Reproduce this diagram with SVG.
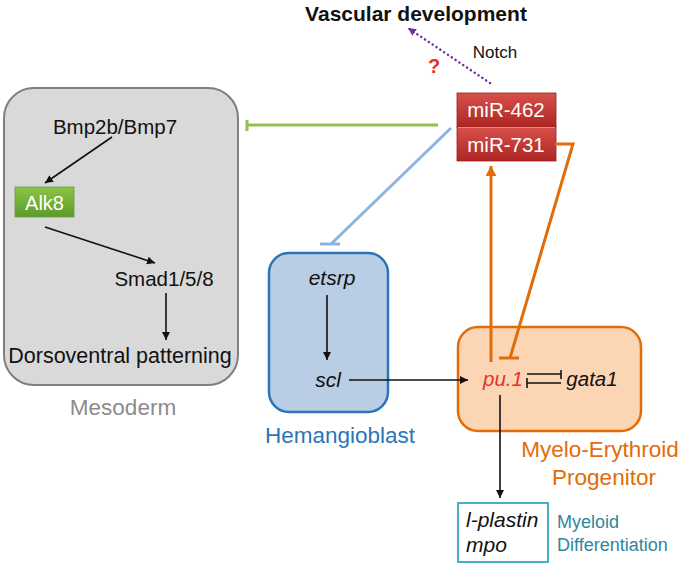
<svg xmlns="http://www.w3.org/2000/svg" width="685" height="569" viewBox="0 0 685 569">
<style>
  text { font-family: "Liberation Sans", Arial, sans-serif; }
  .blk { fill: #111; }
  .it { font-style: italic; }
  .ln { fill: none; stroke: #111; stroke-width: 1.6; }
  .wt { fill: #ffffff; }
</style>
<defs>
  <linearGradient id="gRed" x1="0" y1="0" x2="0" y2="1">
    <stop offset="0" stop-color="#d8504a"/>
    <stop offset="1" stop-color="#ae2622"/>
  </linearGradient>
  <linearGradient id="gGreen" x1="0" y1="0" x2="0" y2="1">
    <stop offset="0" stop-color="#8cc544"/>
    <stop offset="1" stop-color="#5c9a2c"/>
  </linearGradient>
  <marker id="arr" markerUnits="userSpaceOnUse" markerWidth="9" markerHeight="9" refX="8" refY="4" orient="auto">
    <path d="M0,0 L8,4 L0,8 z" fill="#111"/>
  </marker>
  <marker id="arrO" markerUnits="userSpaceOnUse" markerWidth="12" markerHeight="12" refX="10" refY="5.5" orient="auto">
    <path d="M0,0 L10,5.5 L0,11 z" fill="#e36c09"/>
  </marker>
  <marker id="arrP" markerUnits="userSpaceOnUse" markerWidth="9" markerHeight="9" refX="8" refY="4" orient="auto">
    <path d="M0,0 L8,4 L0,8 z" fill="#7030a0"/>
  </marker>
</defs>
<rect width="685" height="569" fill="#ffffff"/>

<g id="mesoderm">
  <rect x="4" y="88" width="234" height="297" rx="30" fill="#d9d9d9" stroke="#7f7f7f" stroke-width="2"/>
  <text x="123" y="415" font-size="22.5" fill="#8c8c8c" text-anchor="middle">Mesoderm</text>
</g>
<g id="bmp">
  <text x="115" y="134" font-size="20.5" class="blk" text-anchor="middle">Bmp2b/Bmp7</text>
</g>
<g id="alk8">
  <rect x="15" y="187" width="59" height="30" fill="url(#gGreen)" stroke="#6a9f3a" stroke-width="0.8"/>
  <text x="44.5" y="210" font-size="20" class="wt" text-anchor="middle">Alk8</text>
</g>
<g id="smad">
  <text x="164" y="286" font-size="20.5" class="blk" text-anchor="middle">Smad1/5/8</text>
</g>
<g id="dv">
  <text x="120" y="363" font-size="21.5" class="blk" text-anchor="middle">Dorsoventral patterning</text>
</g>

<g id="vascular">
  <text x="416" y="21" font-size="21" font-weight="bold" class="blk" text-anchor="middle">Vascular development</text>
</g>

<g id="mir">
  <rect x="457" y="93" width="99" height="34" fill="url(#gRed)" stroke="#9a2020" stroke-width="0.8"/>
  <rect x="457" y="127" width="99" height="34" fill="url(#gRed)" stroke="#9a2020" stroke-width="0.8"/>
  <line x1="458" y1="127.5" x2="555" y2="127.5" stroke="#e88a84" stroke-width="1"/>
  <text x="506" y="117" font-size="20.5" class="wt" text-anchor="middle">miR-462</text>
  <text x="506" y="152" font-size="20.5" class="wt" text-anchor="middle">miR-731</text>
</g>

<g id="hemangioblast">
  <rect x="269" y="253" width="119" height="159" rx="20" fill="#b9cde5" stroke="#2e75b6" stroke-width="2.5"/>
  <text x="332" y="285" font-size="21" class="blk it" text-anchor="middle">etsrp</text>
  <text x="328" y="387" font-size="21" class="blk it" text-anchor="middle">scl</text>
  <text x="340" y="443" font-size="22.5" fill="#2e75b6" text-anchor="middle">Hemangioblast</text>
</g>

<g id="progenitor">
  <rect x="458" y="327" width="183" height="104" rx="20" fill="#fcd5b5" stroke="#e36c09" stroke-width="2.5"/>
  <text x="503" y="386" font-size="20.5" fill="#e8302a" class="it" text-anchor="middle">pu.1</text>
  <text x="592" y="386" font-size="20.5" class="blk it" text-anchor="middle">gata1</text>
  <text x="600" y="457" font-size="22.5" fill="#e36c09" text-anchor="middle">Myelo-Erythroid</text>
  <text x="604" y="485" font-size="22.5" fill="#e36c09" text-anchor="middle">Progenitor</text>
</g>

<g id="myeloid">
  <rect x="458" y="503" width="90" height="59" fill="#ffffff" stroke="#4bacc6" stroke-width="2"/>
  <text x="466" y="527" font-size="21" class="blk it">l-plastin</text>
  <text x="466" y="552" font-size="21" class="blk it">mpo</text>
  <text x="557" y="528" font-size="18" fill="#31859c">Myeloid</text>
  <text x="557" y="551" font-size="18" fill="#31859c">Differentiation</text>
</g>

<g id="connectors">
  <!-- black activation arrows -->
  <line class="ln" x1="112" y1="137" x2="45" y2="183" marker-end="url(#arr)"/>
  <line class="ln" x1="45" y1="227" x2="155" y2="263" marker-end="url(#arr)"/>
  <line class="ln" x1="166" y1="293" x2="166" y2="340" marker-end="url(#arr)"/>
  <line class="ln" x1="327" y1="295" x2="327" y2="360" marker-end="url(#arr)"/>
  <line class="ln" x1="349" y1="380" x2="468" y2="380" marker-end="url(#arr)"/>
  <line class="ln" x1="500" y1="395" x2="500" y2="498" marker-end="url(#arr)"/>
  <!-- pu.1 / gata1 mutual inhibition -->
  <line class="ln" x1="527" y1="374" x2="561" y2="374"/>
  <line class="ln" x1="561" y1="370" x2="561" y2="379"/>
  <line class="ln" x1="527" y1="383" x2="561" y2="383"/>
  <line class="ln" x1="527" y1="378" x2="527" y2="388"/>
  <!-- green inhibition to mesoderm -->
  <line x1="438" y1="125" x2="247" y2="125" stroke="#92c050" stroke-width="3"/>
  <line x1="247" y1="120" x2="247" y2="131" stroke="#92c050" stroke-width="3"/>
  <!-- blue inhibition to hemangioblast -->
  <line x1="451" y1="128" x2="331" y2="244" stroke="#8db3e2" stroke-width="3"/>
  <line x1="320" y1="244" x2="340" y2="244" stroke="#8db3e2" stroke-width="3"/>
  <!-- orange arrow pu.1 -> miR -->
  <line x1="491" y1="362" x2="491" y2="166" stroke="#e36c09" stroke-width="3" marker-end="url(#arrO)"/>
  <!-- orange inhibition miR-731 -> pu.1 -->
  <path d="M555,144 H573 L510,358" fill="none" stroke="#e36c09" stroke-width="3" stroke-linejoin="miter"/>
  <line x1="499" y1="358" x2="519" y2="358" stroke="#e36c09" stroke-width="3"/>
  <!-- purple dotted Notch arrow -->
  <line x1="490" y1="83" x2="408" y2="28" stroke="#7030a0" stroke-width="2.5" stroke-dasharray="0.1 4.5" stroke-linecap="round" marker-end="url(#arrP)"/>
  <text x="495" y="58" font-size="17" class="blk" text-anchor="middle">Notch</text>
  <text x="434" y="73" font-size="20" font-weight="bold" fill="#e8302a" text-anchor="middle">?</text>
</g>
</svg>
